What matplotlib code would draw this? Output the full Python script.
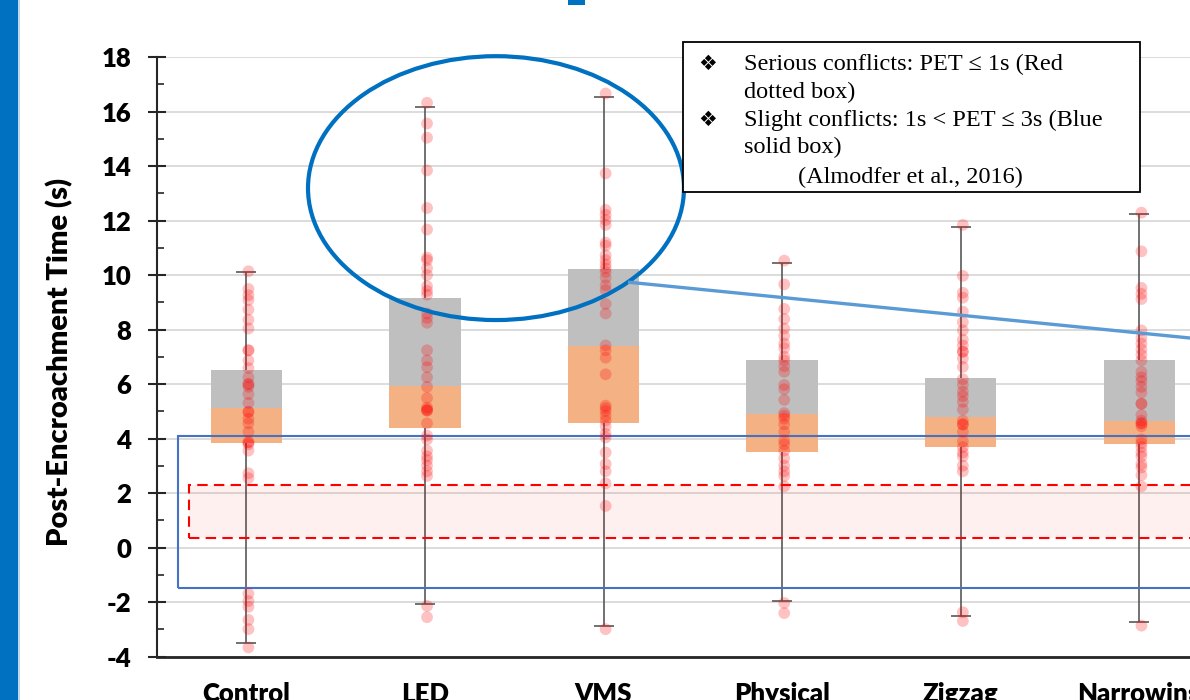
import matplotlib
matplotlib.use("Agg")
import matplotlib.pyplot as plt
from matplotlib.patches import Rectangle, Ellipse
import numpy as np

plt.rcParams['axes.unicode_minus'] = False

categories = ["Control", "LED", "VMS", "Physical", "Zigzag", "Narrowing"]
q1 = [3.83, 4.39, 4.56, 3.52, 3.69, 3.79]
median = [5.12, 5.94, 7.38, 4.90, 4.80, 4.66]
q3 = [6.50, 9.15, 10.22, 6.88, 6.22, 6.87]
whisk_min = [-3.51, -2.08, -2.86, -1.95, -2.51, -2.72]
whisk_max = [10.11, 16.18, 16.53, 10.46, 11.77, 12.25]

pts_control = [10.14, 9.49, 9.26, 9.08, 8.73, 8.36, 8.04, 7.24, 7.24, 6.87, 6.59, 6.25,
               6.00, 6.00, 5.90, 5.63, 5.31, 4.98, 4.98, 4.73, 4.56, 4.25, 3.87, 3.87, 3.79,
               3.56, 2.73, 2.55, -1.69, -1.96, -2.17, -2.65, -2.99, -3.66]
pts_led = [16.32, 15.56, 15.04, 13.84, 12.46, 11.67, 10.64, 10.55, 10.25, 10.00, 9.59,
           9.42, 9.28, 8.59, 8.43, 8.25, 7.24, 6.87, 6.62, 6.25, 5.90, 5.49, 5.14, 5.07,
           5.03, 5.03, 4.56, 4.11, 3.97, 3.56, 3.35, 3.21, 3.01, 2.80, 2.63, -2.14, -2.55]
pts_vms = [16.66, 13.73, 12.39, 12.21, 12.02, 11.84, 11.19, 11.08, 10.73, 10.55, 10.39,
           10.25, 10.11, 9.90, 9.63, 9.45, 8.94, 8.59, 7.42, 7.24, 6.97, 6.36, 5.21, 5.12,
           5.01, 4.84, 4.66, 4.45, 4.18, 4.04, 3.49, 3.07, 2.80, 2.36, 1.53, -2.99]
pts_physical = [10.53, 9.66, 8.76, 8.39, 8.04, 7.77, 7.49, 7.32, 7.01, 6.87, 6.66, 6.45,
                5.97, 5.81, 5.42, 4.94, 4.84, 4.73, 4.52, 4.25, 3.93, 3.79, 3.56, 3.28,
                3.01, 2.80, 2.63, 2.25, -2.03, -2.40]
pts_zigzag = [11.84, 9.97, 9.35, 9.17, 8.66, 8.27, 7.97, 7.63, 7.42, 7.19, 7.19, 6.94,
              6.63, 6.18, 5.97, 5.72, 5.56, 5.35, 5.07, 4.66, 4.52, 4.52, 4.25, 3.90,
              3.69, 3.49, 3.35, 3.01, 2.80, -2.37, -2.69]
pts_narrowing = [12.29, 10.87, 9.53, 9.31, 9.12, 7.97, 7.70, 7.49, 7.28, 7.08, 6.87,
                 6.45, 6.25, 6.11, 5.90, 5.69, 5.28, 5.28, 4.87, 4.66, 4.56, 4.56, 4.45,
                 3.97, 3.83, 3.69, 3.49, 3.35, 3.07, 2.94, 2.66, 2.25, -2.86]
points = [pts_control, pts_led, pts_vms, pts_physical, pts_zigzag, pts_narrowing]

legend_lines = ["Serious conflicts: PET \u2264 1s (Red", "dotted box)",
                "Slight conflicts: 1s < PET \u2264 3s (Blue", "solid box)",
                "(Almodfer et al., 2016)"]

W, H = 1190, 700
fig = plt.figure(figsize=(W / 100, H / 100), dpi=100)
fig.patch.set_facecolor("white")

# axes geometry (pixels)
ax_left, ax_bottom, ax_top = 157, 656.7, 57
cat_w = 178.6
ax = fig.add_axes([ax_left / W, 1 - ax_bottom / H, 6 * cat_w / W, (ax_bottom - ax_top) / H])
ax.set_xlim(-0.5, 5.5)
ax.set_ylim(-4, 18)
ax.patch.set_alpha(0)

x = np.arange(len(categories))
q1a, meda, q3a = np.array(q1), np.array(median), np.array(q3)
mn, mx = np.array(whisk_min), np.array(whisk_max)

# grid
ax.set_yticks(np.arange(-4, 19, 2))
ax.set_yticks(np.arange(-3, 18, 2), minor=True)
ax.yaxis.grid(True, which='major', color='#D9D9D9', lw=1.3, zorder=0)
ax.set_axisbelow(True)

# whiskers
ax.errorbar(x, meda, yerr=[meda - mn, mx - meda], fmt='none', ecolor='#595959',
            elinewidth=1.2, capsize=7, capthick=1.2, zorder=2)
# stacked boxes
ax.bar(x, meda - q1a, bottom=q1a, width=0.4, color='#F4B183', zorder=3)
ax.bar(x, q3a - meda, bottom=meda, width=0.4, color='#BFBFBF', zorder=3)

# threshold boxes
ax.add_patch(Rectangle((-0.319, 0.34), 6.5, 2.30 - 0.34, facecolor=(1, 0, 0, 0.06),
                       edgecolor='none', zorder=2.5))
ax.add_patch(Rectangle((-0.319, 0.34), 6.5, 2.30 - 0.34, facecolor='none',
                       edgecolor='#FF0000', lw=1.5, ls=(0, (5, 3)), zorder=3.5))
ax.add_patch(Rectangle((-0.381, -1.49), 6.5, 4.09 + 1.49, facecolor='none',
                       edgecolor='#4472C4', lw=1.5, zorder=3.5))

# points
for i, p in enumerate(points):
    ax.scatter(np.full(len(p), x[i] + 0.012), p, s=72, color='#FF0000', alpha=0.24,
               edgecolors='none', zorder=4)

# annotation ellipse and line
ax.add_patch(Ellipse((1.398, 13.19), 2.105, 9.68, facecolor='none', edgecolor='#0070C0',
                     lw=3, zorder=5, clip_on=False))
ax.plot([2.137, 5.5], [9.74, 9.74 - 0.651 * (5.5 - 2.137)], color='#5B9BD5', lw=2.4,
        zorder=5, solid_capstyle='butt')

# spines / ticks
for s in ['top', 'right']:
    ax.spines[s].set_visible(False)
ax.spines['left'].set_linewidth(1.5)
ax.spines['left'].set_color('#262626')
ax.spines['bottom'].set_linewidth(2)
ax.spines['bottom'].set_color('#262626')
ax.tick_params(axis='y', which='major', direction='inout', length=13, width=1.5,
               color='#262626', pad=12)
ax.tick_params(axis='y', which='minor', direction='in', length=5, width=1.2, color='#262626')
ax.tick_params(axis='x', length=0, pad=18)
ax.set_xticks(x)
ax.set_xticklabels(categories)
for lab in ax.get_yticklabels() + ax.get_xticklabels():
    lab.set_fontfamily('Lato')
    lab.set_fontweight('heavy')
    lab.set_fontsize(18.5)
    lab.set_color('black')

fig.text(60 / W, 1 - 362 / H, "Post-Encroachment Time (s)", rotation=90, ha='center',
         va='center', fontsize=21, fontweight='heavy', family='Lato')

# left blue bar and top fragment
fig.add_artist(Rectangle((0, 0), 18 / W, 1, transform=fig.transFigure, color='#0070C0', lw=0))
fig.add_artist(Rectangle((18 / W, 0), 1.5 / W, 1, transform=fig.transFigure, color='#BDD7EE', lw=0))
fig.add_artist(Rectangle((568 / W, 1 - 5 / H), 17 / W, 10 / H, transform=fig.transFigure,
                         color='#0070C0', lw=0))

# legend-like text box
fig.add_artist(Rectangle((683 / W, 1 - 192 / H), 457 / W, 150 / H, transform=fig.transFigure,
                         facecolor='white', edgecolor='black', lw=1.3, zorder=10))
ys = [64, 92, 120, 147, 177]
for j, (t, yy) in enumerate(zip(legend_lines, ys)):
    xx = 798 if j == 4 else 744
    fig.text(xx / W, 1 - yy / H, t, ha='left', va='center', fontsize=17.5,
             family=['Liberation Serif', 'DejaVu Sans'], zorder=11)
for yy in [ys[0], ys[2]]:
    fig.text(708 / W, 1 - yy / H, "\u2756", ha='center', va='center', fontsize=15,
             family=['DejaVu Sans'], zorder=11)

fig.savefig("out.png", dpi=100)
